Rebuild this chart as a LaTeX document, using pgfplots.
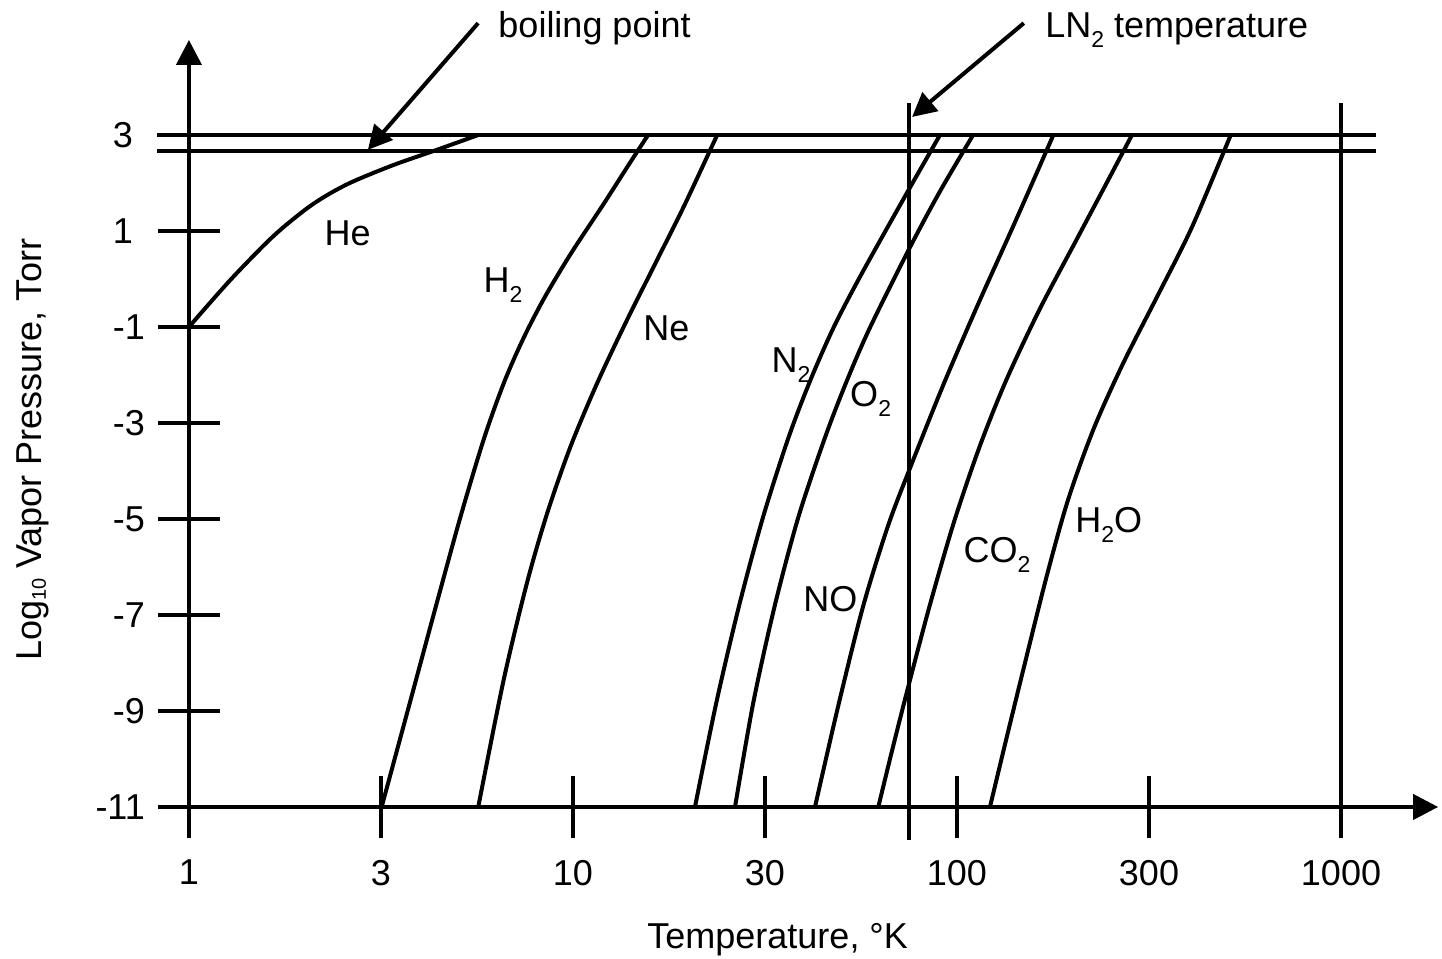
\documentclass[border=0pt]{standalone}
\usepackage{fontspec}
\setmainfont{Liberation Sans}
\usepackage{pgfplots}
\pgfplotsset{compat=1.18}
\usetikzlibrary{arrows.meta}

% subscript lowered like the original artwork
\newcommand\sub[1]{\raisebox{-5pt}{\fontsize{11.5}{12}\selectfont #1}}

% x is log10(T) in decades (1 K at 0, 1000 K at 3), y is log10(p / Torr)
\begin{document}
\begin{tikzpicture}[font=\fontsize{18}{21.6}\selectfont]
\begin{axis}[
  scale only axis,
  width=624.6pt, height=383.5pt,
  xmin=0, xmax=3.253, ymin=-11, ymax=4.98,
  enlargelimits=false,
  clip=false,
  axis x line=bottom, axis y line=left,
  axis line style={line width=2pt, black},
  x axis line style={-{Triangle[length=12.5pt,width=12.5pt]}},
  y axis line style={-{Triangle[length=12.5pt,width=12.5pt]}},
  xtick={0,0.5,1,1.5,2,2.5,3},
  xticklabels={1,3,10,30,100,300,1000},
  ytick={-11,-9,-7,-5,-3,-1,1,3},
  yticklabels={-11,-9,-7,-5,-3,-1,1\hspace*{6pt},3\hspace*{6pt}},
  minor tick num=0,
  tick align=center,
  major tick length=31pt,
  tick style={line width=2pt, black},
  xticklabel style={yshift=-7.5pt},
  yticklabel style={xshift=-3pt},
]
% frame lines
\draw[line width=2pt] (axis cs:-0.083,3) -- (axis cs:3.091,3);
\draw[line width=2pt] (axis cs:-0.083,2.67) -- (axis cs:3.091,2.67);
\draw[line width=2pt] (axis cs:1.876,-11.69) -- (axis cs:1.876,3.67);
\draw[line width=2pt] (axis cs:3,-11) -- (axis cs:3,3.67);

% vapour pressure curves
% He
\addplot[line width=2pt, black, smooth, mark=none] coordinates {(0,-1) (0.1078,-0.021) (0.2174,0.875) (0.3018,1.4375) (0.3604,1.75) (0.4263,2.027) (0.5328,2.375) (0.6443,2.6875) (0.7536,3.0)};
% H2
\addplot[line width=2pt, black, smooth, mark=none] coordinates {(0.5018,-11) (0.5758,-8.8125) (0.6440,-6.792) (0.7070,-4.958) (0.7688,-3.3125) (0.8221,-2.125) (0.8727,-1.208) (0.9268,-0.375) (0.9956,0.542) (1.0781,1.542) (1.1448,2.375) (1.1956,3.0)};
% Ne
\addplot[line width=2pt, black, smooth, mark=none] coordinates {(0.7534,-11) (0.8195,-8.354) (0.8802,-6.333) (0.9331,-4.875) (0.9932,-3.5) (1.0609,-2.208) (1.1357,-0.937) (1.2164,0.354) (1.2906,1.542) (1.3755,3.0)};
% N2
\addplot[line width=2pt, black, smooth, mark=none] coordinates {(1.3177,-11) (1.3737,-8.8125) (1.4331,-6.792) (1.4951,-4.958) (1.5609,-3.3125) (1.6174,-2.125) (1.6781,-1.021) (1.75,0.083) (1.8651,1.729) (1.9557,3.0)};
% O2
\addplot[line width=2pt, black, smooth, mark=none] coordinates {(1.422,-11) (1.470,-8.81) (1.526,-6.79) (1.587,-4.96) (1.656,-3.31) (1.713,-2.125) (1.773,-1.02) (1.878,0.667) (1.956,1.83) (2.042,3.0)};
% NO
\addplot[line width=2pt, black, smooth, mark=none] coordinates {(1.6302,-11) (1.6932,-8.8125) (1.7565,-6.792) (1.8203,-5.146) (1.8768,-3.958) (1.9643,-2.208) (2.0529,-0.562) (2.1513,1.188) (2.2510,3.0)};
% CO2
\addplot[line width=2pt, black, smooth, mark=none] coordinates {(1.7951,-11) (1.8339,-9.729) (1.8763,-8.396) (1.9294,-6.792) (1.9922,-5.063) (2.0586,-3.5) (2.1273,-2.125) (2.2143,-0.646) (2.3109,0.813) (2.380,1.854) (2.4557,3.0)};
% H2O
\addplot[line width=2pt, black, smooth, mark=none] coordinates {(2.0859,-11) (2.1297,-9.542) (2.1802,-7.896) (2.2344,-6.167) (2.2891,-4.604) (2.3557,-3.125) (2.4331,-1.75) (2.5260,-0.292) (2.6120,1.083) (2.7128,3.0)};

% curve labels
\node[anchor=base west, inner sep=0] at (axis cs:0.352,0.708) {He};
\node[anchor=base west, inner sep=0] at (axis cs:0.766,-0.292) {H\sub{2}};
\node[anchor=base west, inner sep=0] at (axis cs:1.182,-1.29) {Ne};
\node[anchor=base west, inner sep=0] at (axis cs:1.516,-1.94) {N\sub{2}};
\node[anchor=base west, inner sep=0] at (axis cs:1.721,-2.66) {O\sub{2}};
\node[anchor=base west, inner sep=0] at (axis cs:1.599,-6.93) {NO};
\node[anchor=base west, inner sep=0] at (axis cs:2.016,-5.91) {CO\sub{2}};
\node[anchor=base west, inner sep=0] at (axis cs:2.307,-5.29) {H\sub{2}O};

% annotations
\draw[line width=2pt, -{Triangle[length=12pt,width=12pt]}] (axis cs:0.753,5.33) -- (axis cs:0.466,2.69);
\node[anchor=base west, inner sep=0] at (axis cs:0.805,5.04) {boiling point};
\draw[line width=2pt, -{Triangle[length=12pt,width=12pt]}] (axis cs:2.174,5.33) -- (axis cs:1.883,3.375);
\node[anchor=base west, inner sep=0] at (axis cs:2.229,5.04) {LN\sub{2} temperature};

% axis titles
\node[anchor=base, inner sep=0] at (axis cs:1.533,-13.94) {Temperature, °K};
\node[anchor=base, inner sep=0, rotate=90] at (axis cs:-0.383,-3.56) {Log\raisebox{-2pt}{\fontsize{10}{10}\selectfont 10} Vapor Pressure, Torr};

\coordinate (bbsw) at (axis cs:-0.492,-14.167);
\coordinate (bbne) at (axis cs:3.263,5.8125);
\end{axis}
\pgfresetboundingbox
\path (bbsw) rectangle (bbne);
\end{tikzpicture}
\end{document}
